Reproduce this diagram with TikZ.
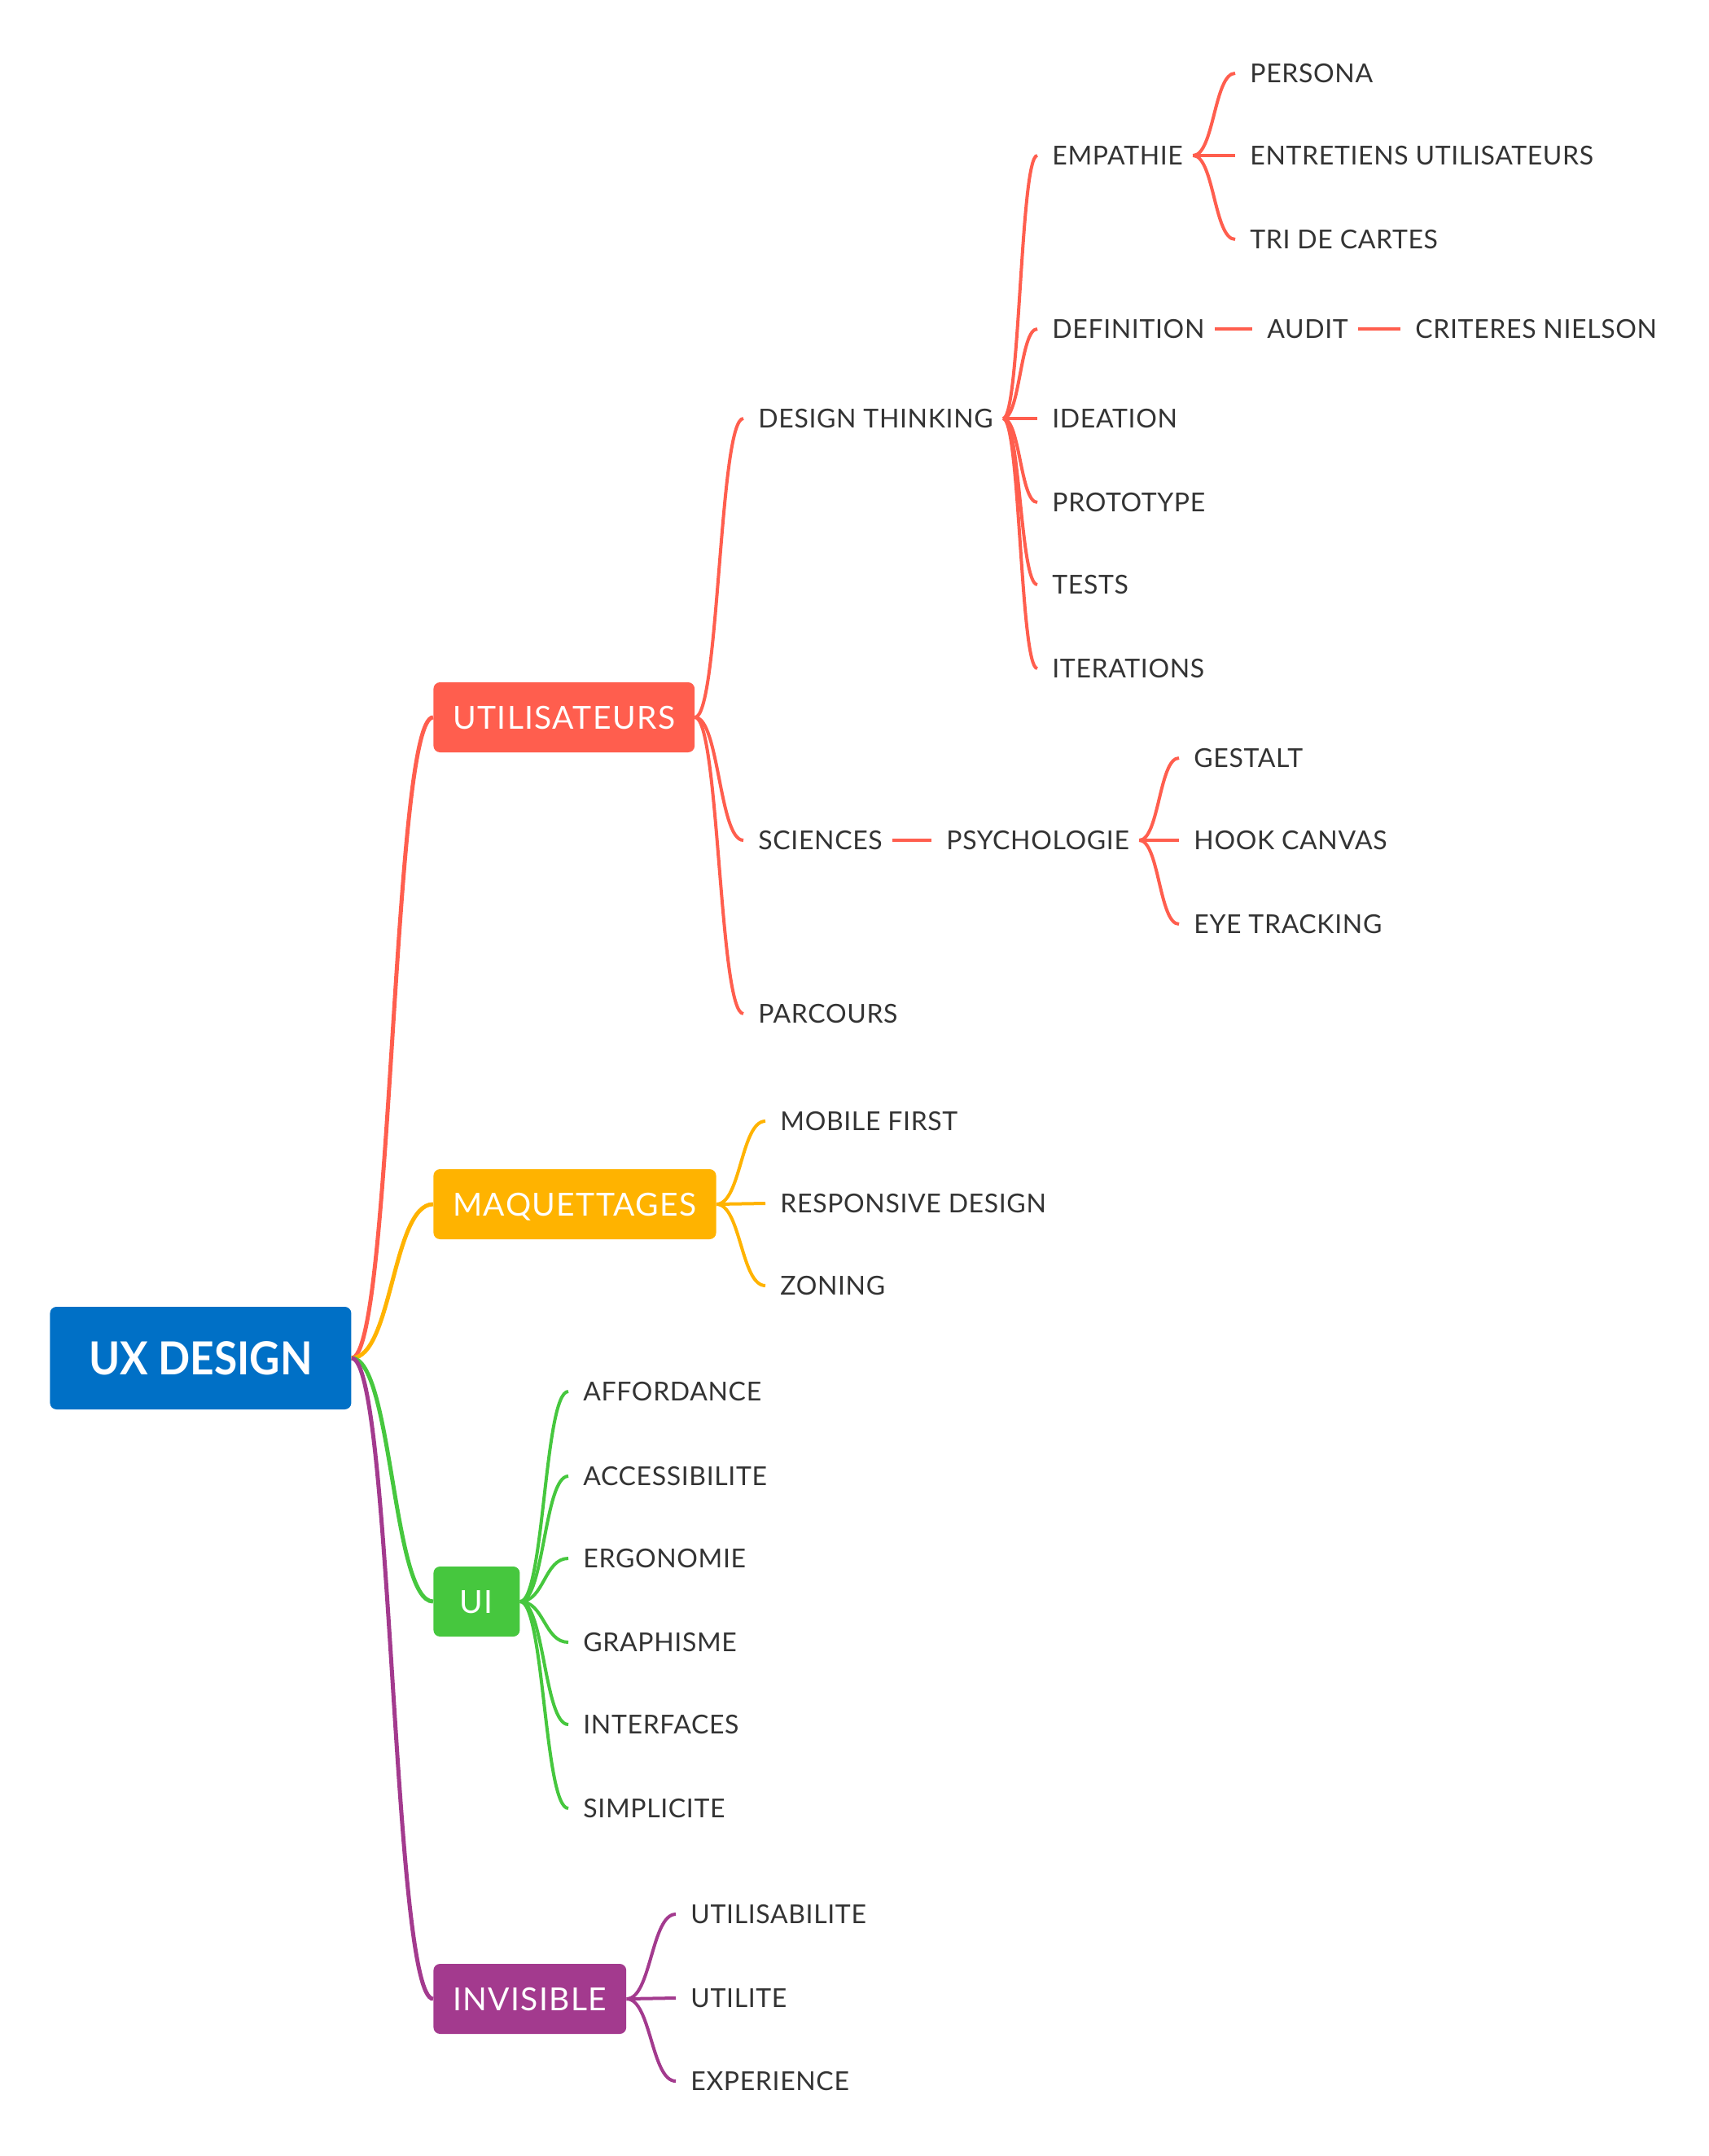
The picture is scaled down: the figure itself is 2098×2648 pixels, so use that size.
\documentclass[tikz,border=0pt]{standalone}
\usepackage{fontspec}
\setmainfont{Lato}
\newfontfamily\leaffont[LetterSpace=2]{Lato}
\newfontfamily\branchfont[LetterSpace=3.5]{Lato}
\newfontfamily\rootfont[FakeStretch=0.92]{Lato}
\usetikzlibrary{calc}
\definecolor{cRed}{HTML}{FF5E4E}
\definecolor{cOrange}{HTML}{FFB300}
\definecolor{cGreen}{HTML}{46C73E}
\definecolor{cPurple}{HTML}{A33A8E}
\definecolor{cBlue}{HTML}{0070C6}
\definecolor{ink}{HTML}{333333}
% S-shaped connector between two points
\newcommand\mmlink[3]{\draw[#1] let \p1=#2, \p2=#3 in (\p1) .. controls ({(\x1+\x2)/2},\y1) and ({(\x1+\x2)/2},\y2) .. (\p2);}
\begin{document}
\begin{tikzpicture}[x=0.5pt,y=-0.5pt,
  leaf/.style={anchor=west, inner xsep=0pt, inner ysep=2pt, text height=11.5pt, text depth=0pt,
    font=\leaffont\fontsize{16}{18}\selectfont, text=ink},
  branch/.style={anchor=west, rounded corners=4pt, inner xsep=12pt, minimum height=43pt,
    text height=14pt, text depth=0pt, font=\branchfont\fontsize{19.5}{22}\selectfont, text=white},
  rootbox/.style={anchor=west, rounded corners=4pt, fill=cBlue, minimum width=185pt, minimum height=63pt,
    text height=20pt, text depth=0pt, font=\rootfont\fontsize{28}{30}\bfseries\selectfont, text=white},
  main/.style={line width=2.5pt},
  sub/.style={line width=2pt}]
\useasboundingbox (0,0) rectangle (2098,2648);

% root and main branches
\node[rootbox] (root) at (61,1668) {UX DESIGN};
\node[branch, fill=cRed] (usr) at (532,881) {UTILISATEURS};
\node[branch, fill=cOrange] (maq) at (532,1479) {MAQUETTAGES};
\node[branch, fill=cGreen, minimum width=53pt] (ui) at (532,1967) {UI};
\node[branch, fill=cPurple] (inv) at (532,2455) {INVISIBLE};

% UTILISATEURS
\node[leaf] (dt) at (931,514) {DESIGN THINKING};
\node[leaf] (sci) at (931,1032) {SCIENCES};
\node[leaf] (par) at (931,1245) {PARCOURS};
\node[leaf] (emp) at (1292,191) {EMPATHIE};
\node[leaf] (def) at (1292,404) {DEFINITION};
\node[leaf] (ide) at (1292,514) {IDEATION};
\node[leaf] (pro) at (1292,617) {PROTOTYPE};
\node[leaf] (tst) at (1292,718) {TESTS};
\node[leaf] (ite) at (1292,821) {ITERATIONS};
\node[leaf] (per) at (1535,90) {PERSONA};
\node[leaf] (ent) at (1535,191) {ENTRETIENS UTILISATEURS};
\node[leaf] (tri) at (1535,294) {TRI DE CARTES};
\node[leaf] (aud) at (1556,404) {AUDIT};
\node[leaf] (nie) at (1738,404) {CRITERES NIELSON};
\node[leaf] (psy) at (1162,1032) {PSYCHOLOGIE};
\node[leaf] (ges) at (1466,931) {GESTALT};
\node[leaf] (hoo) at (1466,1032) {HOOK CANVAS};
\node[leaf] (eye) at (1466,1135) {EYE TRACKING};

% MAQUETTAGES
\node[leaf] (mob) at (958,1377) {MOBILE FIRST};
\node[leaf] (res) at (958,1478) {RESPONSIVE DESIGN};
\node[leaf] (zon) at (958,1579) {ZONING};

% UI
\node[leaf] (aff) at (716,1709) {AFFORDANCE};
\node[leaf] (acc) at (716,1813) {ACCESSIBILITE};
\node[leaf] (erg) at (716,1914) {ERGONOMIE};
\node[leaf] (gra) at (716,2017) {GRAPHISME};
\node[leaf] (itf) at (716,2118) {INTERFACES};
\node[leaf] (sim) at (716,2221) {SIMPLICITE};

% INVISIBLE
\node[leaf] (uti) at (848,2351) {UTILISABILITE};
\node[leaf] (utl) at (848,2454) {UTILITE};
\node[leaf] (exp) at (848,2556) {EXPERIENCE};

% connectors from the root
\mmlink{main,cRed}{(root.east)}{(usr.west)}
\mmlink{main,cOrange}{(root.east)}{(maq.west)}
\mmlink{main,cGreen}{(root.east)}{(ui.west)}
\mmlink{main,cPurple}{(root.east)}{(inv.west)}

% UTILISATEURS subtree
\foreach \c in {dt,sci,par}{\mmlink{sub,cRed}{(usr.east)}{([xshift=-9pt]\c.west)}}
\foreach \c in {emp,def,ide,pro,tst,ite}{\mmlink{sub,cRed}{([xshift=6pt]dt.east)}{([xshift=-9pt]\c.west)}}
\foreach \c in {per,ent,tri}{\mmlink{sub,cRed}{([xshift=6pt]emp.east)}{([xshift=-9pt]\c.west)}}
\mmlink{sub,cRed}{([xshift=6pt]def.east)}{([xshift=-9pt]aud.west)}
\mmlink{sub,cRed}{([xshift=6pt]aud.east)}{([xshift=-9pt]nie.west)}
\mmlink{sub,cRed}{([xshift=6pt]sci.east)}{([xshift=-9pt]psy.west)}
\foreach \c in {ges,hoo,eye}{\mmlink{sub,cRed}{([xshift=6pt]psy.east)}{([xshift=-9pt]\c.west)}}

% MAQUETTAGES subtree
\foreach \c in {mob,res,zon}{\mmlink{sub,cOrange}{(maq.east)}{([xshift=-9pt]\c.west)}}

% UI subtree
\foreach \c in {aff,acc,erg,gra,itf,sim}{\mmlink{sub,cGreen}{(ui.east)}{([xshift=-9pt]\c.west)}}

% INVISIBLE subtree
\foreach \c in {uti,utl,exp}{\mmlink{sub,cPurple}{(inv.east)}{([xshift=-9pt]\c.west)}}
\end{tikzpicture}
\end{document}
